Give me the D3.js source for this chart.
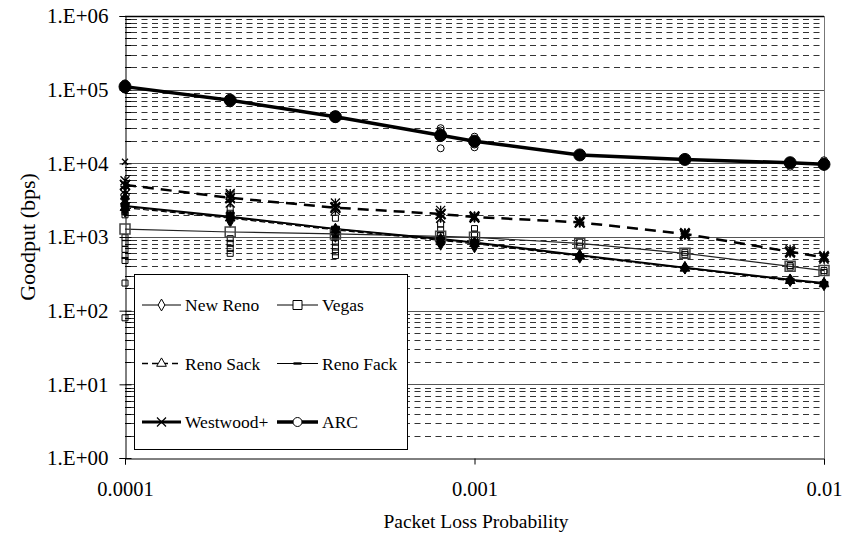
<!DOCTYPE html>
<html>
<head>
<meta charset="utf-8">
<script src="https://cdn.jsdelivr.net/npm/d3@7"></script>
<style>
  body { margin: 0; background: #fff; }
  svg { display: block; }
  text { font-family: 'Liberation Serif', 'Times New Roman', serif; }
</style>
</head>
<body>
<div id="chart"></div>
<script>
const lossProb = [0.0001, 0.0002, 0.0004, 0.0008, 0.001, 0.002, 0.004, 0.008, 0.01]

// mean goodput per loss probability (bps)
const newReno = [2600, 1850, 1280, 930, 830, 560, 380, 260, 235]
const vegas = [1280, 1170, 1100, 1020, 990, 820, 600, 400, 350]
const renoSack = [2500, 1800, 1250, 900, 810, 550, 375, 255, 230]
const renoFack = [2650, 1900, 1300, 950, 850, 570, 385, 265, 240]
const westwood = [5100, 3400, 2500, 2050, 1870, 1580, 1100, 630, 530]
const arc = [110000, 72000, 43000, 24000, 20000, 13000, 11300, 10200, 9700]

// single runs, same order as lossProb
const arcRuns = [
  [100000, 106000, 118000, 122000], [65000, 70000, 76000], [40000, 42000, 46000],
  [16000, 22000, 28000, 30000], [16500, 18000, 21000, 23000], [12500, 13500],
  [11000, 11800], [9000, 10000, 10800], [9000, 10000, 11000],
]
const westwoodRuns = [
  [3200, 3800, 4300, 5000, 5800, 10500], [2900, 3300, 3700, 3900], [2300, 2600, 2900],
  [1800, 2000, 2300], [1800, 1950], [1550, 1650], [1050, 1150], [600, 680], [500, 560],
]
const vegasRuns = [
  [2000, 2200, 980, 820, 680, 560, 480, 237, 80], [2400, 2100, 950, 820, 700, 600],
  [1800, 980, 850, 730, 630, 560], [1500, 1250, 1050], [1300, 1100, 900],
  [850, 750], [620, 580], [410, 390], [350, 330],
]
const renoRuns = [
  [2200, 2500, 2800, 3100, 3500], [1600, 1800, 2100], [1000, 1150, 1350],
  [780, 850, 1000], [720, 800, 900], [520, 580], [370, 400], [250, 270], [220, 240],
]

const yTicks = [1, 10, 100, 1000, 10000, 100000, 1000000]
const xTicks = [0.0001, 0.001, 0.01]

const width = 843
const height = 536
const plotLeft = 125
const plotRight = 824
const plotTop = 16
const plotBottom = 458

const x = d3.scaleLog().domain([1e-4, 1e-2]).range([plotLeft, plotRight])
const y = d3.scaleLog().domain([1, 1e6]).range([plotBottom, plotTop])

const svg = d3
  .select('#chart')
  .append('svg')
  .attr('width', width)
  .attr('height', height)

// grid: dashed minors, solid decades
const grid = svg.append('g')
for (let e = 0; e < 6; e++) {
  for (let m = 2; m <= 9; m++) {
    const v = m * Math.pow(10, e)
    grid
      .append('line')
      .attr('x1', plotLeft + 6)
      .attr('x2', plotRight)
      .attr('y1', Math.round(y(v)) + 0.5)
      .attr('y2', Math.round(y(v)) + 0.5)
      .attr('stroke', '#333')
      .attr('stroke-dasharray', '6,4.5')
  }
}
yTicks.slice(1).forEach(v => {
  grid
    .append('line')
    .attr('x1', plotLeft)
    .attr('x2', plotRight)
    .attr('y1', Math.round(y(v)) + 0.5)
    .attr('y2', Math.round(y(v)) + 0.5)
    .attr('stroke', v === 1e6 ? '#000' : '#555')
    .attr('stroke-width', v === 1e6 ? 1.5 : 1)
})
grid
  .append('line')
  .attr('x1', plotRight + 0.5)
  .attr('x2', plotRight + 0.5)
  .attr('y1', plotTop)
  .attr('y2', plotBottom)
  .attr('stroke', '#777')

// axes
const fmtY = d => `1.E+${String(Math.round(Math.log10(d))).padStart(2, '0')}`

const yAxis = svg
  .append('g')
  .attr('transform', `translate(${plotLeft + 0.5},0)`)
  .call(
    d3
      .axisLeft(y)
      .tickValues(yTicks)
      .tickFormat(fmtY)
      .tickSize(6)
      .tickPadding(11),
  )
yAxis.select('.domain').attr('stroke', '#000')
yAxis.selectAll('.tick line').attr('x2', 6).attr('x1', -6)
yAxis
  .selectAll('text')
  .attr('font-family', "'Liberation Serif', serif")
  .attr('font-size', 21)
  .attr('fill', '#000')

// minor ticks inside the axis
for (let e = 0; e < 6; e++) {
  for (let m = 2; m <= 9; m++) {
    const v = m * Math.pow(10, e)
    svg
      .append('line')
      .attr('x1', plotLeft)
      .attr('x2', plotLeft + 6)
      .attr('y1', Math.round(y(v)) + 0.5)
      .attr('y2', Math.round(y(v)) + 0.5)
      .attr('stroke', '#000')
  }
}

const xAxis = svg
  .append('g')
  .attr('transform', `translate(0,${plotBottom + 0.5})`)
  .call(
    d3
      .axisBottom(x)
      .tickValues(xTicks)
      .tickFormat(d => String(d))
      .tickSize(6)
      .tickPadding(17),
  )
xAxis.select('.domain').attr('stroke', '#000')
xAxis
  .selectAll('text')
  .attr('font-family', "'Liberation Serif', serif")
  .attr('font-size', 20.5)
  .attr('fill', '#000')

svg
  .append('text')
  .attr('x', 476)
  .attr('y', 528)
  .attr('text-anchor', 'middle')
  .attr('font-size', 19.5)
  .text('Packet Loss Probability')

svg
  .append('text')
  .attr('transform', 'translate(35,237) rotate(-90)')
  .attr('text-anchor', 'middle')
  .attr('font-size', 22)
  .text('Goodput (bps)')

// markers
function markerPath(kind, size) {
  const s = size / 2
  if (kind === 'star') {
    return `M${-s},${-s}L${s},${s}M${-s},${s}L${s},${-s}M0,${-s}L0,${s}`
  }
  if (kind === 'x') {
    return `M${-s},${-s}L${s},${s}M${-s},${s}L${s},${-s}`
  }
  if (kind === 'dash') {
    return `M${-s},-1.2L${s},-1.2L${s},1.2L${-s},1.2Z`
  }
  const types = {
    diamond: d3.symbolDiamond,
    square: d3.symbolSquare,
    triangle: d3.symbolTriangle,
    circle: d3.symbolCircle,
  }
  const area = kind === 'square' ? size * size : kind === 'circle' ? Math.PI * s * s : size * size * 0.5
  return d3.symbol(types[kind], area)()
}

function marker(g, kind, cx, cy, size, fill, stroke, sw) {
  g.append('path')
    .attr('d', markerPath(kind, size))
    .attr('transform', `translate(${cx},${cy})`)
    .attr('fill', fill)
    .attr('stroke', stroke)
    .attr('stroke-width', sw || 1)
}

const line = d3
  .line()
  .x((d, i) => x(lossProb[i]))
  .y(d => y(d))

const plot = svg.append('g')

// single-run scatter
const runs = plot.append('g')
vegasRuns.forEach((vals, i) =>
  vals.forEach(v => marker(runs, 'square', x(lossProb[i]), y(v), 6, 'none', '#000', 1)),
)
arcRuns.forEach((vals, i) =>
  vals.forEach(v => marker(runs, 'circle', x(lossProb[i]), y(v), 7, 'none', '#000', 1)),
)
renoRuns.forEach((vals, i) =>
  vals.forEach((v, j) =>
    marker(runs, ['diamond', 'triangle', 'dash'][j % 3], x(lossProb[i]), y(v), 8, '#000', '#000', 1),
  ),
)
westwoodRuns.forEach((vals, i) =>
  vals.forEach(v =>
    marker(runs, v > 9000 ? 'x' : 'star', x(lossProb[i]), y(v), v > 9000 ? 6 : 9, 'none', '#000', 1.3),
  ),
)

// mean lines
plot.append('path').datum(vegas).attr('d', line).attr('fill', 'none').attr('stroke', '#222').attr('stroke-width', 1.2)
plot.append('path').datum(newReno).attr('d', line).attr('fill', 'none').attr('stroke', '#000').attr('stroke-width', 1.2)
plot
  .append('path')
  .datum(renoSack)
  .attr('d', line)
  .attr('fill', 'none')
  .attr('stroke', '#000')
  .attr('stroke-width', 1.2)
  .attr('stroke-dasharray', '6,3')
plot.append('path').datum(renoFack).attr('d', line).attr('fill', 'none').attr('stroke', '#000').attr('stroke-width', 1.4)
plot
  .append('path')
  .datum(westwood)
  .attr('d', line)
  .attr('fill', 'none')
  .attr('stroke', '#000')
  .attr('stroke-width', 2.5)
  .attr('stroke-dasharray', '11,7')
plot.append('path').datum(arc).attr('d', line).attr('fill', 'none').attr('stroke', '#000').attr('stroke-width', 3.5)

// mean markers
lossProb.forEach((p, i) => {
  const cx = x(p)
  marker(plot, 'square', cx, y(vegas[i]), 10, 'none', '#444', 1.5)
  marker(plot, 'diamond', cx, y(newReno[i]), 9, '#000', '#000')
  marker(plot, 'triangle', cx, y(renoSack[i]), 9, '#000', '#000')
  marker(plot, 'dash', cx, y(renoFack[i]), 8, '#000', '#000')
  marker(plot, 'star', cx, y(westwood[i]), 10, 'none', '#000', 2)
  marker(plot, 'circle', cx, y(arc[i]), 12, '#000', '#000')
})

// legend
const legendItems = [
  { name: 'New Reno', kind: 'diamond', width: 1, dash: null },
  { name: 'Vegas', kind: 'square', width: 1, dash: null },
  { name: 'Reno Sack', kind: 'triangle', width: 1.3, dash: '6,4' },
  { name: 'Reno Fack', kind: 'dash', width: 1, dash: null },
  { name: 'Westwood+', kind: 'x', width: 3, dash: null },
  { name: 'ARC', kind: 'circle', width: 3.5, dash: null },
]

const legend = svg.append('g')
legend
  .append('rect')
  .attr('x', 134.5)
  .attr('y', 274.5)
  .attr('width', 273)
  .attr('height', 175)
  .attr('fill', '#fff')
  .attr('stroke', '#000')

legendItems.forEach((d, i) => {
  const col = i % 2
  const row = Math.floor(i / 2)
  const x0 = col === 0 ? 142 : 277
  const x1 = col === 0 ? 181 : 318
  const cy = 305 + row * 58.5
  legend
    .append('line')
    .attr('x1', x0)
    .attr('x2', x1)
    .attr('y1', cy)
    .attr('y2', cy)
    .attr('stroke', '#000')
    .attr('stroke-width', d.width)
    .attr('stroke-dasharray', d.dash)
  const mx = (x0 + x1) / 2
  if (d.kind === 'dash') {
    marker(legend, 'dash', mx, cy, 8, '#000', 'none')
  } else if (d.kind === 'x') {
    marker(legend, 'x', mx, cy, 9, 'none', '#000', 1.2)
  } else {
    marker(legend, d.kind, mx, cy, 9, '#fff', '#000', 1)
  }
  legend
    .append('text')
    .attr('x', x1 + 4)
    .attr('y', cy + 6)
    .attr('font-size', 17.5)
    .text(d.name)
})
</script>
</body>
</html>
